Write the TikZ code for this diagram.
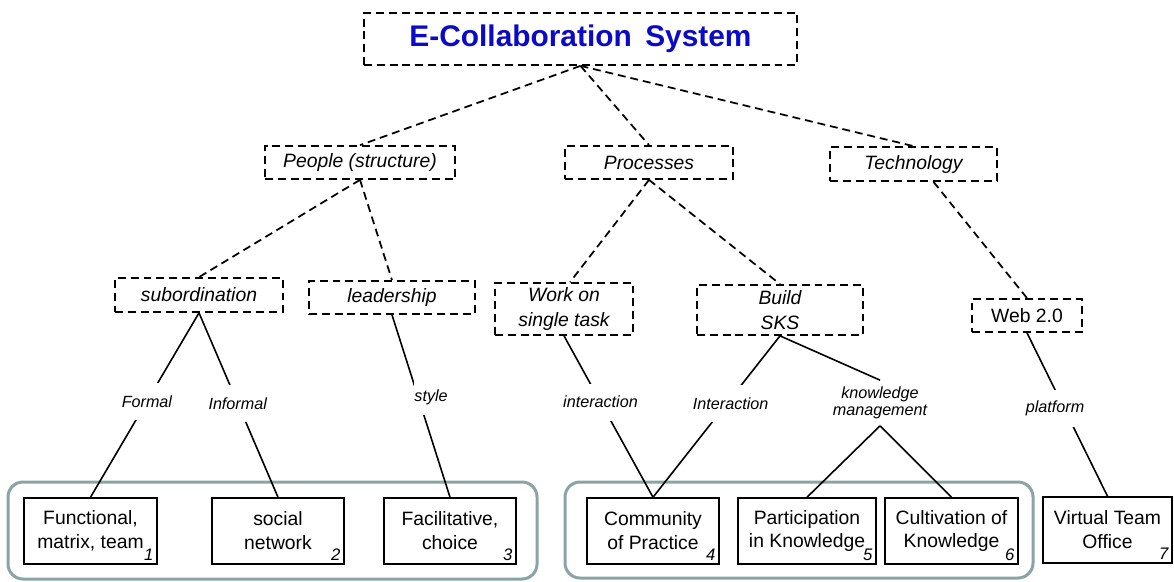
\documentclass[tikz,border=0pt]{standalone}
\usepackage{fontspec}
\setmainfont{Liberation Sans}
\definecolor{titleblue}{RGB}{10,10,200}
\definecolor{groupgray}{RGB}{138,163,165}
\tikzset{
  dashbox/.style={draw, dash pattern=on 4.5pt off 2.8pt, line width=0.035cm, inner sep=0pt,
    align=center, font=\fontsize{11}{14}\selectfont\itshape},
  leafbox/.style={draw, line width=0.03cm, minimum height=1.32cm, inner sep=0pt,
    align=center, font=\fontsize{11}{13.6}\selectfont},
  leafno/.style={anchor=south east, inner sep=0.08cm, font=\fontsize{9.5}{10}\selectfont\itshape},
  edgelabel/.style={fill=white, inner sep=0pt, minimum height=0.74cm,
    align=center, font=\fontsize{9.2}{9.8}\selectfont\itshape},
  dashline/.style={dash pattern=on 4.5pt off 2.8pt, line width=0.035cm},
  solidline/.style={line width=0.032cm},
  groupbox/.style={draw=groupgray, line width=0.06cm, rounded corners=0.3cm}
}
\begin{document}
\begin{tikzpicture}
\useasboundingbox (0,0) rectangle (23.48,11.62);

% Grouping frames behind the leaves
\draw [groupbox] (0.16,0.04) rectangle (10.74,1.98);%
\draw [groupbox] (11.30,0.06) rectangle (20.66,1.98);%

% Top node
\node [dashbox, minimum width=8.66cm, minimum height=1.04cm, text=titleblue,
  font=\fontsize{17}{19}\selectfont\bfseries] (sys) at (11.61,10.84) {E-Collaboration\hspace{0.45em}System};%

% Three pillars
\node [dashbox, minimum width=3.80cm, minimum height=0.66cm] (people) at (7.20,8.37) {People (structure)};%
\node [dashbox, minimum width=3.36cm, minimum height=0.66cm] (proc) at (12.98,8.37) {Processes};%
\node [dashbox, minimum width=3.34cm, minimum height=0.68cm] (tech) at (18.27,8.34) {Technology};%

% Second level
\node [dashbox, minimum width=3.36cm, minimum height=0.68cm] (sub) at (3.98,5.72) {subordination};%
\node [dashbox, minimum width=3.32cm, minimum height=0.66cm] (lead) at (7.84,5.67) {leadership};%
\node [dashbox, minimum width=2.76cm, minimum height=1.04cm] (work) at (11.28,5.44) {Work on\\single task};%
\node [dashbox, minimum width=3.32cm, minimum height=1.00cm] (build) at (15.60,5.42) {Build\\SKS};%
\node [dashbox, minimum width=2.20cm, minimum height=0.66cm, font=\fontsize{11}{14}\selectfont] (web) at (20.54,5.31) {Web 2.0};%

% Leaves
\node [leafbox, minimum width=2.66cm] (b1) at (1.81,1.00) {Functional,\\matrix, team};%
\node [leafbox, minimum width=2.64cm] (b2) at (5.56,1.00) {social\\network};%
\node [leafbox, minimum width=2.64cm] (b3) at (9.00,1.00) {Facilitative,\\choice};%
\node [leafbox, minimum width=2.64cm] (b4) at (13.06,1.00) {Community\\of Practice};%
\node [leafbox, minimum width=2.76cm] (b5) at (16.14,1.00) {Participation\\in Knowledge};%
\node [leafbox, minimum width=2.66cm] (b6) at (19.03,1.00) {Cultivation of\\Knowledge};%
\node [leafbox, minimum width=2.58cm] (b7) at (22.15,1.02) {Virtual Team\\Office};%
\foreach \n in {1,...,7}
  \node [leafno] at (b\n.south east) {\n};%

% Dashed links between levels
\draw [dashline] (sys.south) -- (people.north);%
\draw [dashline] (sys.south) -- (proc.north);%
\draw [dashline] (sys.south) -- (tech.north);%
\draw [dashline] (people.south) -- (sub.north);%
\draw [dashline] (people.south) -- (lead.north);%
\draw [dashline] (proc.south) -- ([xshift=0.12cm]work.north);%
\draw [dashline] (proc.south) -- (build.north);%
\draw [dashline] ([xshift=0.40cm]tech.south) -- (web.north);%

% Labelled links down to the leaves
\draw [solidline] (sub.south) -- node [edgelabel, pos=0.48] {Formal} (b1.north);%
\draw [solidline] (sub.south) -- node [edgelabel, pos=0.49] {Informal} (b2.north);%
\draw [solidline] (lead.south) -- node [edgelabel, pos=0.45, xshift=0.26cm] {style} (b3.north);%
\draw [solidline] (work.south) -- node [edgelabel, pos=0.41] {interaction} (b4.north);%
\draw [solidline] (build.south) -- node [edgelabel, pos=0.42, xshift=0.08cm] {Interaction} (b4.north);%
\draw [solidline] (web.south) -- node [edgelabel, pos=0.46, xshift=-0.18cm] {platform} (b7.north);%

% Knowledge management branch
\node [edgelabel, fill=none, minimum height=0.90cm] (km) at (17.60,3.56) {knowledge\\management};%
\draw [solidline] (build.south) -- (km.north);%
\draw [solidline] (km.south) -- (b5.north);%
\draw [solidline] (km.south) -- (b6.north);%
\end{tikzpicture}
\end{document}
